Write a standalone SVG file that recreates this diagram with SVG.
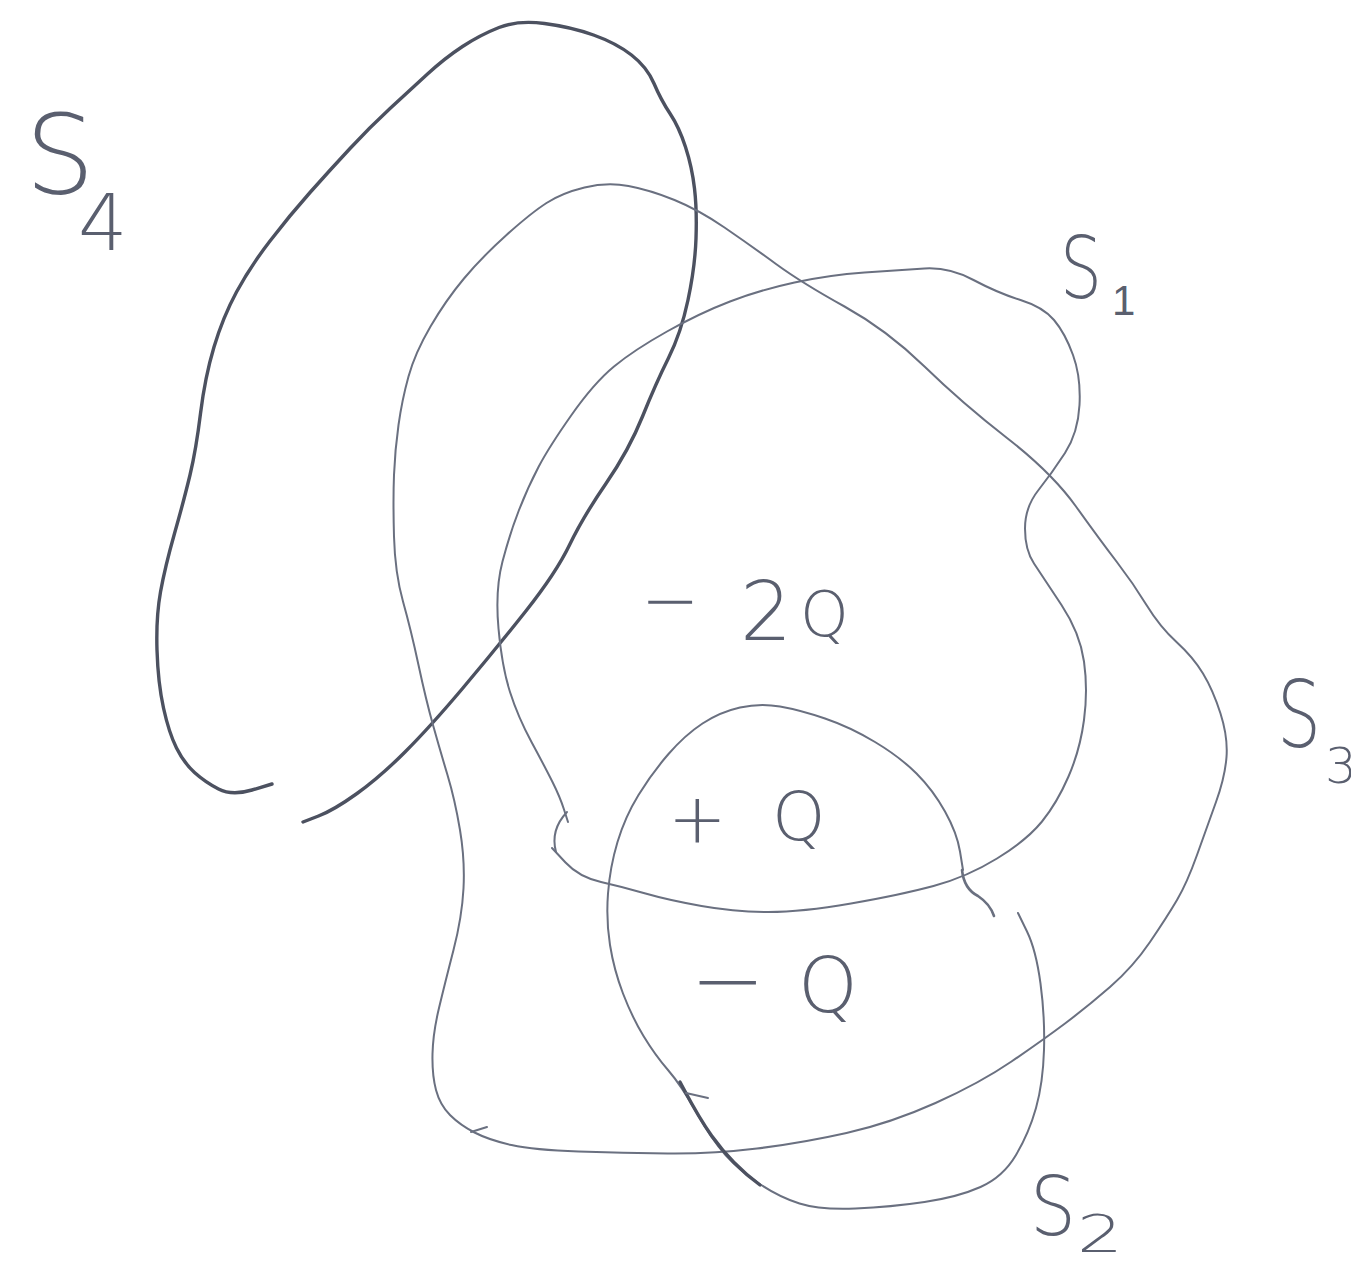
<svg xmlns="http://www.w3.org/2000/svg" width="1351" height="1265" viewBox="0 0 1351 1265">
<style>
.ln{fill:none;stroke:#6a7080;stroke-width:2;stroke-linecap:round;stroke-linejoin:round}
.thick{fill:none;stroke:#4c5160;stroke-width:3.4;stroke-linecap:round;stroke-linejoin:round}
.tx{font-family:"DejaVu Sans","Liberation Sans",sans-serif;font-weight:200;fill:#5a5f6f}
</style>
<rect width="1351" height="1265" fill="#ffffff"/>
<g id="S4">
<path class="thick" d="M272,784 L252,790 Q232,796 218.5,789 Q205,782 194.5,772.5 Q184,763 176.5,748 Q169,733 163.5,708 Q158,683 157,650 Q156,617 160.5,592 Q165,567 174.5,533.5 Q184,500 190,475 Q196,450 200.5,413.5 Q205,377 214,347 Q223,317 236.5,292 Q250,267 270,241 Q290,215 310,192.5 Q330,170 350,148.5 Q370,127 390,108.5 Q410,90 427.5,74 Q445,58 462.5,46.5 Q480,35 499,27.5 Q518,20 544.5,23.5 Q571,27 593.5,35 Q616,43 631.5,55 Q647,67 654,83.5 Q661,100 670,113.5 Q679,127 685.5,147 Q692,167 694.5,188.5 Q697,210 696,238.5 Q695,267 688,300 Q681,333 668.5,358 Q656,383 642.5,416.5 Q629,450 606,483.5 Q583,517 569.5,545 Q556,573 525.5,611.5 Q495,650 462.5,688.5 Q430,727 405,752 Q380,777 357,793.5 Q334,810 318.5,816 L303,822"/>
<text class="tx" x="25" y="193" font-size="110">S<tspan x="78" y="250" font-size="78">4</tspan></text>
</g>
<g id="S3">
<path class="ln" d="M584.5,187.5 Q607,182 628.5,186 Q650,190 674.5,200 Q699,210 724.5,227.5 Q750,245 776,264 Q802,283 844.5,306.5 Q887,330 924.5,366.5 Q962,403 1007,438 Q1052,473 1076,506.5 Q1100,540 1116.5,561.5 Q1133,583 1146.5,605 Q1160,627 1176.5,642 Q1193,657 1203,673.5 Q1213,690 1220.5,713.5 Q1228,737 1226.5,757 Q1225,777 1216,802 Q1207,827 1197,855 Q1187,883 1177,900 Q1167,917 1150,942 Q1133,967 1110,987 Q1087,1007 1065,1023.5 Q1043,1040 1011.5,1061.5 Q980,1083 935.5,1103 Q891,1123 846.5,1133 Q802,1143 757,1148.5 Q712,1154 667.5,1153.5 Q623,1153 578.5,1151.5 Q534,1150 511.5,1145 Q489,1140 474.5,1132.5 Q460,1125 450,1115 Q440,1105 436,1090 Q432,1075 432.5,1054 Q433,1033 439,1008 Q445,983 453.5,950 Q462,917 463.5,888.5 Q465,860 460,830 Q455,800 447.5,775 Q440,750 433,725 Q426,700 418.5,665 Q411,630 403,601.5 Q395,573 394,536.5 Q393,500 394,475 Q395,450 398.5,425 Q402,400 408.5,376.5 Q415,353 430.5,326.5 Q446,300 464,278.5 Q482,257 506.5,235 Q531,213 546.5,203 Q562,193 584.5,187.5 Z"/>
<path class="ln" d="M471,1132 L487,1127"/>
<text class="tx" x="1277" y="747" font-size="92" textLength="44" lengthAdjust="spacingAndGlyphs">S</text>
<text class="tx" x="1325" y="783" font-size="50">3</text>
</g>
<g id="S1">
<path class="ln" d="M568,822 L564,809.5 Q560,797 552.5,782 Q545,767 531.5,742 Q518,717 510,692 Q502,667 498.5,628.5 Q495,590 502.5,561.5 Q510,533 519,510 Q528,487 538.5,467 Q549,447 571.5,415 Q594,383 614,366.5 Q634,350 667,331.5 Q700,313 730,301.5 Q760,290 794.5,282.5 Q829,275 864.5,272.5 Q900,270 924.5,268.5 Q949,267 973.5,280 Q998,293 1020.5,300 Q1043,307 1054,320 Q1065,333 1073,355 Q1081,377 1079.5,405 Q1078,433 1065,453 Q1052,473 1038.5,490 Q1025,507 1025,528.5 Q1025,550 1034,563.5 Q1043,577 1061.5,605 Q1080,633 1084,661.5 Q1088,690 1084,720 Q1080,750 1068.5,776.5 Q1057,803 1042,821.5 Q1027,840 997,858.5 Q967,877 933.5,886 Q900,895 851,903.5 Q802,912 768.5,912 Q735,912 701.5,906 Q668,900 645.5,893.5 Q623,887 601,882 Q579,877 565.5,862.5 L552,848"/>
<path class="ln" d="M567,812 Q550,830 556,852"/>
<text class="tx" x="1060" y="298" font-size="86" textLength="42" lengthAdjust="spacingAndGlyphs">S</text>
<text x="1112" y="315" font-size="42" style="font-family:'Liberation Sans',sans-serif;fill:#5a5f6f">1</text>
</g>
<g id="S2">
<path class="ln" d="M963,870 L960,851.5 Q957,833 945,811.5 Q933,790 916.5,773.5 Q900,757 875,742 Q850,727 825,718.5 Q800,710 780,706.5 Q760,703 740,707.5 Q720,712 702.5,723.5 Q685,735 668.5,754 Q652,773 638.5,795 Q625,817 617.5,842 Q610,867 608,893.5 Q606,920 610,945 Q614,970 623,993.5 Q632,1017 643.5,1036 Q655,1055 668,1070 Q681,1085 696.5,1112.5 Q712,1140 725.5,1155 Q739,1170 759,1183.5 Q779,1197 799.5,1203.5 Q820,1210 855.5,1208.5 Q891,1207 924.5,1202 Q958,1197 980.5,1187 Q1003,1177 1016,1155 Q1029,1133 1036,1108 Q1043,1083 1044,1050 Q1045,1017 1040.5,983.5 Q1036,950 1027,931.5 L1018,913"/>
<path class="thick" d="M680,1082 C695,1110 715,1152 760,1185"/>
<path class="ln" d="M686,1093 L708,1098"/>
<path class="ln" style="stroke-width:2.6" d="M962,870 Q964,889 978,896 Q990,904 994,916"/>
<text class="tx" x="1030" y="1235" font-size="82" textLength="46" lengthAdjust="spacingAndGlyphs">S</text>
<text class="tx" x="1077" y="1252" font-size="52" textLength="46" lengthAdjust="spacingAndGlyphs">2</text>
</g>
<g id="charges">
<text class="tx" font-size="70"><tspan x="641" y="624">−</tspan><tspan x="740" y="640" font-size="82">2</tspan><tspan x="800" y="636" font-size="62">Q</tspan></text>
<text class="tx" font-size="70"><tspan x="668" y="842">+</tspan><tspan x="772" y="840" font-size="68">Q</tspan></text>
<text class="tx" font-size="90"><tspan x="690" y="1011">−</tspan><tspan x="798" y="1012" font-size="76">Q</tspan></text>
</g>
</svg>
